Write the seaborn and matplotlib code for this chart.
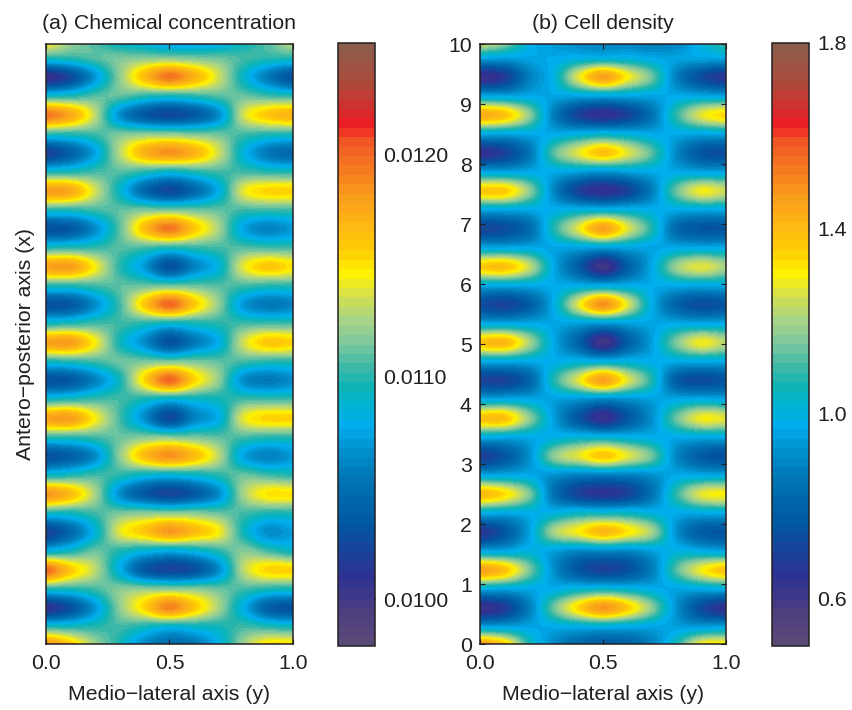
import matplotlib
matplotlib.use("Agg")
import matplotlib.pyplot as plt
from matplotlib.colors import LinearSegmentedColormap
import numpy as np
import pandas as pd
import seaborn as sns

# positions of the readings, evenly spaced so the image can smooth between them
lateral_y = [0.0, 0.1, 0.2, 0.3, 0.4, 0.5, 0.6, 0.7, 0.8, 0.9, 1.0]
axis_x = [-0.03, 0.286, 0.602, 0.918, 1.234, 1.55, 1.866, 2.182, 2.498, 2.814, 3.13, 3.446, 3.762, 4.078,
          4.394, 4.71, 5.026, 5.342, 5.658, 5.974, 6.29, 6.606, 6.922, 7.238, 7.554, 7.87, 8.186, 8.502,
          8.818, 9.134, 9.45, 9.766, 10.082]

# chemical concentration, in units of 1e-5
chem = [
    [1195, 1165, 1125, 1095, 1060, 1045, 1050, 1080, 1125, 1155, 1155],
    [1100, 1098, 1100, 1105, 1095, 1085, 1090, 1095, 1105, 1100, 1095],
    [1010, 1030, 1070, 1120, 1155, 1190, 1160, 1125, 1080, 1040, 1030],
    [1098, 1098, 1105, 1118, 1120, 1120, 1118, 1112, 1105, 1098, 1095],
    [1200, 1160, 1130, 1080, 1035, 1022, 1030, 1065, 1130, 1155, 1155],
    [1085, 1095, 1112, 1098, 1085, 1078, 1085, 1100, 1118, 1105, 1092],
    [1020, 1045, 1085, 1140, 1160, 1182, 1165, 1145, 1095, 1065, 1072],
    [1095, 1095, 1105, 1115, 1118, 1118, 1118, 1112, 1105, 1098, 1098],
    [1185, 1165, 1125, 1065, 1035, 1022, 1035, 1065, 1125, 1150, 1150],
    [1092, 1098, 1105, 1100, 1088, 1085, 1090, 1100, 1112, 1105, 1100],
    [1030, 1040, 1065, 1120, 1165, 1185, 1165, 1130, 1075, 1060, 1070],
    [1100, 1100, 1105, 1112, 1118, 1118, 1115, 1110, 1105, 1100, 1100],
    [1178, 1180, 1145, 1105, 1065, 1025, 1060, 1080, 1140, 1155, 1155],
    [1095, 1100, 1105, 1105, 1095, 1085, 1090, 1095, 1105, 1105, 1105],
    [1030, 1035, 1060, 1095, 1155, 1200, 1155, 1120, 1065, 1055, 1065],
    [1095, 1100, 1105, 1112, 1115, 1115, 1115, 1110, 1105, 1100, 1100],
    [1178, 1180, 1145, 1095, 1065, 1030, 1055, 1080, 1135, 1160, 1155],
    [1095, 1100, 1105, 1105, 1098, 1090, 1095, 1100, 1105, 1105, 1105],
    [1030, 1035, 1065, 1105, 1160, 1200, 1160, 1120, 1070, 1055, 1060],
    [1100, 1100, 1105, 1110, 1112, 1112, 1112, 1108, 1105, 1100, 1100],
    [1178, 1180, 1145, 1100, 1070, 1030, 1060, 1085, 1140, 1160, 1150],
    [1098, 1100, 1102, 1108, 1105, 1098, 1102, 1105, 1108, 1105, 1105],
    [1030, 1035, 1065, 1110, 1165, 1195, 1160, 1125, 1075, 1060, 1070],
    [1100, 1100, 1105, 1110, 1115, 1115, 1112, 1110, 1105, 1105, 1105],
    [1182, 1175, 1135, 1090, 1045, 1025, 1045, 1080, 1140, 1155, 1155],
    [1095, 1098, 1105, 1108, 1100, 1090, 1098, 1105, 1105, 1100, 1098],
    [1020, 1040, 1075, 1130, 1170, 1185, 1170, 1135, 1085, 1055, 1045],
    [1100, 1100, 1105, 1115, 1118, 1118, 1115, 1112, 1105, 1100, 1098],
    [1195, 1175, 1130, 1065, 1035, 1025, 1035, 1065, 1135, 1160, 1170],
    [1095, 1098, 1108, 1110, 1100, 1095, 1100, 1108, 1112, 1105, 1100],
    [1005, 1025, 1070, 1120, 1165, 1195, 1170, 1135, 1090, 1055, 1030],
    [1098, 1100, 1108, 1115, 1118, 1118, 1115, 1112, 1105, 1100, 1098],
    [1155, 1125, 1105, 1085, 1075, 1065, 1065, 1070, 1090, 1110, 1135],
]

density = [
    [1.52, 1.40, 1.08, 0.90, 0.80, 0.76, 0.78, 0.88, 1.08, 1.32, 1.34],
    [0.96, 0.96, 0.96, 0.97, 0.98, 0.98, 0.97, 0.96, 0.95, 0.95, 0.96],
    [0.62, 0.68, 0.88, 1.14, 1.34, 1.48, 1.36, 1.17, 0.92, 0.73, 0.64],
    [0.98, 0.97, 0.97, 0.98, 1.02, 1.04, 1.02, 0.98, 0.96, 0.97, 0.98],
    [1.46, 1.38, 1.16, 0.92, 0.76, 0.70, 0.74, 0.88, 1.12, 1.29, 1.38],
    [0.96, 0.97, 1.00, 0.95, 0.90, 0.90, 0.90, 0.95, 1.00, 0.98, 0.96],
    [0.66, 0.76, 0.95, 1.20, 1.30, 1.40, 1.32, 1.20, 0.92, 0.78, 0.76],
    [0.98, 0.97, 0.98, 1.00, 1.04, 1.04, 1.04, 1.00, 0.97, 0.97, 0.98],
    [1.40, 1.33, 1.16, 0.85, 0.70, 0.66, 0.70, 0.85, 1.09, 1.27, 1.30],
    [0.97, 0.97, 0.97, 0.92, 0.88, 0.88, 0.88, 0.92, 0.97, 0.97, 0.97],
    [0.68, 0.76, 0.92, 1.17, 1.27, 1.37, 1.27, 1.14, 0.90, 0.78, 0.74],
    [0.98, 0.97, 0.97, 0.99, 1.02, 1.02, 1.00, 0.98, 0.97, 0.97, 0.97],
    [1.38, 1.38, 1.18, 0.95, 0.76, 0.63, 0.76, 0.92, 1.14, 1.29, 1.27],
    [0.97, 0.98, 0.97, 0.95, 0.93, 0.90, 0.92, 0.95, 0.97, 0.98, 0.97],
    [0.70, 0.70, 0.80, 1.07, 1.27, 1.46, 1.27, 1.07, 0.78, 0.73, 0.76],
    [0.97, 0.97, 0.97, 0.98, 1.00, 1.00, 1.00, 0.98, 0.97, 0.97, 0.97],
    [1.38, 1.40, 1.21, 0.97, 0.80, 0.60, 0.78, 0.95, 1.16, 1.29, 1.22],
    [0.97, 0.97, 0.97, 0.96, 0.95, 0.93, 0.95, 0.96, 0.97, 0.97, 0.97],
    [0.73, 0.70, 0.78, 0.98, 1.27, 1.49, 1.27, 0.98, 0.80, 0.73, 0.76],
    [0.97, 0.97, 0.97, 0.97, 0.98, 0.98, 0.98, 0.97, 0.97, 0.97, 0.97],
    [1.36, 1.38, 1.24, 0.97, 0.78, 0.60, 0.78, 0.97, 1.19, 1.27, 1.20],
    [0.97, 0.97, 0.97, 0.96, 0.96, 0.95, 0.96, 0.96, 0.97, 0.97, 0.97],
    [0.70, 0.73, 0.82, 1.07, 1.27, 1.46, 1.27, 1.07, 0.82, 0.76, 0.76],
    [0.97, 0.97, 0.97, 0.98, 1.00, 1.00, 1.00, 0.98, 0.97, 0.97, 0.97],
    [1.36, 1.36, 1.18, 0.90, 0.70, 0.64, 0.70, 0.88, 1.14, 1.29, 1.24],
    [0.96, 0.96, 0.97, 0.97, 0.95, 0.92, 0.95, 0.97, 0.97, 0.96, 0.96],
    [0.64, 0.70, 0.85, 1.12, 1.27, 1.38, 1.27, 1.12, 0.90, 0.76, 0.73],
    [0.97, 0.96, 0.97, 0.97, 1.00, 1.02, 1.00, 0.97, 0.97, 0.96, 0.97],
    [1.43, 1.38, 1.18, 0.88, 0.70, 0.64, 0.70, 0.85, 1.09, 1.27, 1.34],
    [0.97, 0.96, 0.97, 0.96, 0.96, 0.96, 0.96, 0.96, 0.97, 0.97, 0.96],
    [0.62, 0.68, 0.88, 1.00, 1.27, 1.46, 1.30, 1.14, 0.88, 0.73, 0.66],
    [0.96, 0.95, 0.96, 0.97, 0.99, 1.00, 1.00, 0.97, 0.95, 0.96, 0.96],
    [1.32, 1.22, 1.00, 0.93, 0.90, 0.88, 0.88, 0.85, 0.88, 1.00, 1.12],
]

# colorbar colours read from the bottom up
cmap_pos = [0.00, 0.05, 0.11, 0.16, 0.20, 0.27, 0.32, 0.364, 0.40, 0.43, 0.46, 0.50,
            0.54, 0.58, 0.62, 0.66, 0.70, 0.75, 0.80, 0.84, 0.87, 0.90, 0.94, 1.00]
cmap_colors = ["#5a4a78", "#4c3d80", "#2e3192", "#14479b", "#0058a3", "#0074b5", "#008fcb", "#00aeef",
               "#00b4d0", "#10b5b5", "#3ab8a8", "#7ac79f", "#a6d488", "#d3df50", "#fff200", "#ffcb05",
               "#fdb714", "#f99d1c", "#f47521", "#f15a24", "#ed1c24", "#d02f2f", "#ad4a3a", "#8c5c4a"]

chem_ticks = [0.0100, 0.0110, 0.0120]
density_ticks = [0.6, 1.0, 1.4, 1.8]
x_ticks = [0.0, 0.5, 1.0]
dark = "#231f20"

sns.set_style("white")
plt.rcParams["font.family"] = ["Liberation Sans", "DejaVu Sans"]
plt.rcParams["font.size"] = 15.3
plt.rcParams["text.color"] = dark
plt.rcParams["axes.labelcolor"] = dark
plt.rcParams["xtick.color"] = dark
plt.rcParams["ytick.color"] = dark

cmap = LinearSegmentedColormap.from_list("muted_jet", list(zip(cmap_pos, cmap_colors)), N=64)

W, H = 853, 710
fig = plt.figure(figsize=(W / 100, H / 100), dpi=100)


def px_axes(left, right, top, bottom):
    return fig.add_axes([left / W, 1 - bottom / H, (right - left) / W, (bottom - top) / H])


def draw_panel(ax, cax, values, vmin, vmax, cticks, cfmt, title):
    df = pd.DataFrame(values, index=axis_x, columns=lateral_y)
    sns.heatmap(df, ax=ax, cbar_ax=cax, cmap=cmap, vmin=vmin, vmax=vmax, xticklabels=False, yticklabels=False)
    # heatmap gives the colorbar, the smooth field goes over it on the true coordinates
    mesh = ax.collections[0]
    mesh.set_visible(False)
    dx = (axis_x[-1] - axis_x[0]) / (len(axis_x) - 1) / 2
    dy = (lateral_y[-1] - lateral_y[0]) / (len(lateral_y) - 1) / 2
    ax.imshow(df.values, origin="lower", aspect="auto", cmap=cmap, vmin=vmin, vmax=vmax,
              extent=[lateral_y[0] - dy, lateral_y[-1] + dy, axis_x[0] - dx, axis_x[-1] + dx],
              interpolation="catrom", interpolation_stage="data")
    ax.set_xlim(0, 1)
    ax.set_ylim(0, 10)
    ax.set_xticks(x_ticks)
    ax.set_xticklabels(["%.1f" % t for t in x_ticks])
    ax.set_xlabel("Medio\u2212lateral axis (y)", labelpad=8.5)
    ax.set_title(title, fontsize=15.3, pad=11)
    ax.tick_params(axis="both", direction="in", length=3.5, width=0.8, top=True, bottom=True, pad=7)
    for s in ax.spines.values():
        s.set_visible(True)
        s.set_linewidth(1.1)
        s.set_color(dark)

    cb = mesh.colorbar
    cb.set_ticks(cticks)
    cb.set_ticklabels([cfmt % t for t in cticks])
    cb.outline.set_visible(True)
    cb.outline.set_linewidth(1.1)
    cb.outline.set_edgecolor(dark)
    cax.tick_params(axis="y", direction="in", length=5, width=0.8, left=True, right=True, pad=6)


ax_a = px_axes(46, 293, 44, 644)
cax_a = px_axes(338, 375, 43, 646)
draw_panel(ax_a, cax_a, np.array(chem) * 1e-5, 0.00979, 0.01250, chem_ticks, "%.4f", "(a) Chemical concentration")
ax_a.set_yticks([])
ax_a.set_ylabel("Antero\u2212posterior axis (x)", labelpad=8)

ax_b = px_axes(480, 726, 44, 644)
cax_b = px_axes(772, 809, 43, 646)
draw_panel(ax_b, cax_b, density, 0.4985, 1.80, density_ticks, "%.1f", "(b) Cell density")
ax_b.set_yticks(range(0, 11))
ax_b.set_yticklabels([str(i) for i in range(0, 11)])
ax_b.tick_params(axis="y", direction="in", length=3.5, width=0.8, left=True, right=True, pad=6)

fig.savefig("out.png", dpi=100, facecolor="white")
